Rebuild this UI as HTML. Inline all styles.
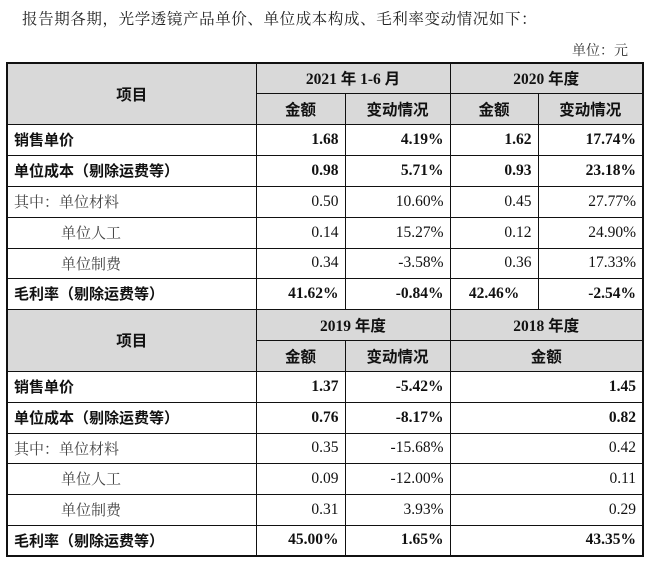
<!DOCTYPE html>
<html><head><meta charset="utf-8"><style>
body{margin:0;background:#fff;width:650px;height:562px;position:relative;overflow:hidden;font-family:"Liberation Serif","Noto Serif CJK SC",serif;color:#111}
.t{position:absolute;left:22px;top:7px;font-size:15.5px;letter-spacing:0.6px;color:#222;font-family:"Noto Serif CJK SC",serif}
.u{position:absolute;left:572px;top:40px;font-size:14px;color:#333;font-family:"Noto Serif CJK SC",serif}
table{position:absolute;left:6px;top:62px;border-collapse:collapse;table-layout:fixed;border:2px solid #111}
td{border:1px solid #111;font-size:15.5px;padding:0 6px;height:30px;box-sizing:border-box;text-align:right;white-space:nowrap}
td.h{background:#d9d9d9;text-align:center;font-weight:bold;font-family:"Liberation Serif","Noto Sans CJK SC",serif}
td.l{text-align:left;font-family:"Noto Sans CJK SC",sans-serif;font-weight:bold;font-size:15px}
td.n{text-align:left;font-family:"Noto Serif CJK SC",serif;color:#444;font-size:15px}
td.i{padding-left:53px}
.b{font-weight:bold}
</style></head><body>
<div class="t">报告期各期，光学透镜产品单价、单位成本构成、毛利率变动情况如下：</div>
<div class="u">单位：元</div>
<table>
<colgroup><col style="width:249px"><col style="width:89px"><col style="width:105px"><col style="width:88px"><col style="width:105px"></colgroup>
<tr style="height:30px"><td class="h" rowspan="2">项目</td><td class="h" colspan="2">2021 年 1-6 月</td><td class="h" colspan="2">2020 年度</td></tr>
<tr style="height:31px"><td class="h">金额</td><td class="h">变动情况</td><td class="h">金额</td><td class="h">变动情况</td></tr>
<tr style="height:31px"><td class="l">销售单价</td><td class="b">1.68</td><td class="b">4.19%</td><td class="b">1.62</td><td class="b">17.74%</td></tr>
<tr style="height:31px"><td class="l">单位成本（剔除运费等）</td><td class="b">0.98</td><td class="b">5.71%</td><td class="b">0.93</td><td class="b">23.18%</td></tr>
<tr style="height:31px"><td class="n">其中：单位材料</td><td>0.50</td><td>10.60%</td><td>0.45</td><td>27.77%</td></tr>
<tr style="height:31px"><td class="n i">单位人工</td><td>0.14</td><td>15.27%</td><td>0.12</td><td>24.90%</td></tr>
<tr style="height:30px"><td class="n i">单位制费</td><td>0.34</td><td>-3.58%</td><td>0.36</td><td>17.33%</td></tr>
<tr style="height:31px"><td class="l">毛利率（剔除运费等）</td><td class="b">41.62%</td><td class="b">-0.84%</td><td class="b" style="text-align:center">42.46%</td><td class="b">-2.54%</td></tr>
<tr style="height:31px"><td class="h" rowspan="2">项目</td><td class="h" colspan="2">2019 年度</td><td class="h" colspan="2">2018 年度</td></tr>
<tr style="height:31px"><td class="h">金额</td><td class="h">变动情况</td><td class="h" colspan="2">金额</td></tr>
<tr style="height:31px"><td class="l">销售单价</td><td class="b">1.37</td><td class="b">-5.42%</td><td class="b" colspan="2">1.45</td></tr>
<tr style="height:31px"><td class="l">单位成本（剔除运费等）</td><td class="b">0.76</td><td class="b">-8.17%</td><td class="b" colspan="2">0.82</td></tr>
<tr style="height:30px"><td class="n">其中：单位材料</td><td>0.35</td><td>-15.68%</td><td colspan="2">0.42</td></tr>
<tr style="height:31px"><td class="n i">单位人工</td><td>0.09</td><td>-12.00%</td><td colspan="2">0.11</td></tr>
<tr style="height:31px"><td class="n i">单位制费</td><td>0.31</td><td>3.93%</td><td colspan="2">0.29</td></tr>
<tr style="height:31px"><td class="l">毛利率（剔除运费等）</td><td class="b">45.00%</td><td class="b">1.65%</td><td class="b" colspan="2">43.35%</td></tr>
</table>
</body></html>
